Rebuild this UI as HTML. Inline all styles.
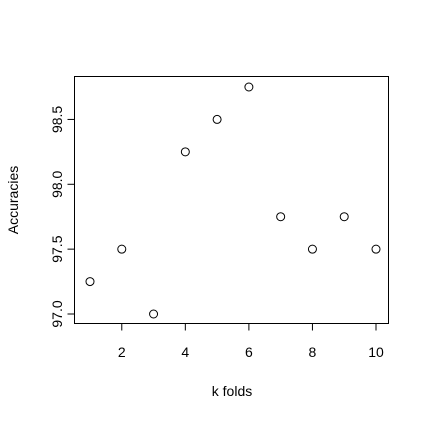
<!DOCTYPE html>
<html><head><meta charset="utf-8"><style>
body{margin:0;background:#fff}
svg{display:block;font-family:"Liberation Sans",sans-serif}
</style></head><body>
<svg id="chart" width="428" height="421" viewBox="0 0 428 421">
<rect x="74.5" y="76.5" width="314" height="247" fill="none" stroke="#000" stroke-width="1"/>
<g id="xaxis"></g>
<g id="yaxis"></g>
<g id="points"></g>
<text x="232" y="396" font-size="14" text-anchor="middle">k folds</text>
<text x="0" y="0" font-size="14" text-anchor="middle" transform="matrix(0,-1,1,0,18,200)">Accuracies</text>
</svg>
<script>
const folds=[1,2,3,4,5,6,7,8,9,10];
const accuracies=[97.25,97.5,97.0,98.25,98.5,98.75,97.75,97.5,97.75,97.5];
const xTicks=[2,4,6,8,10];
const yTicks=["97.0","97.5","98.0","98.5"];
const NS="http://www.w3.org/2000/svg";
function xs(v){return 90+(v-1)*(376-90)/9;}
function ys(v){return 314-(v-97)*(314-87)/1.75;}
function mk(t,a,p){const e=document.createElementNS(NS,t);for(const k in a)e.setAttribute(k,a[k]);p.appendChild(e);return e;}
const xa=document.getElementById('xaxis'),ya=document.getElementById('yaxis'),pg=document.getElementById('points');
mk('line',{x1:xs(2),x2:xs(10),y1:323.5,y2:323.5,stroke:'#000'},xa);
xTicks.forEach(v=>{const x=xs(v);
const l=mk('line',{x1:x,x2:x,y1:323.5,y2:330.5,stroke:'#000'},xa);


const t=mk('text',{x:x,y:357,'font-size':14,'text-anchor':'middle'},xa);t.textContent=v;

});
mk('line',{x1:74.5,x2:74.5,y1:ys(97),y2:ys(98.5),stroke:'#000'},ya);
yTicks.forEach(s=>{const y=ys(parseFloat(s));
const l=mk('line',{x1:67.5,x2:74.5,y1:y,y2:y,stroke:'#000'},ya);


const t=mk('text',{x:0,y:0,'font-size':14,'text-anchor':'middle',transform:`matrix(0,-1,1,0,62,${y})`},ya);t.textContent=s;

});
folds.forEach((f,i)=>{const c=mk('circle',{cx:xs(f),cy:ys(accuracies[i]),r:4,fill:'none',stroke:'#000','stroke-width':1},pg);

});
</script>
</body></html>
